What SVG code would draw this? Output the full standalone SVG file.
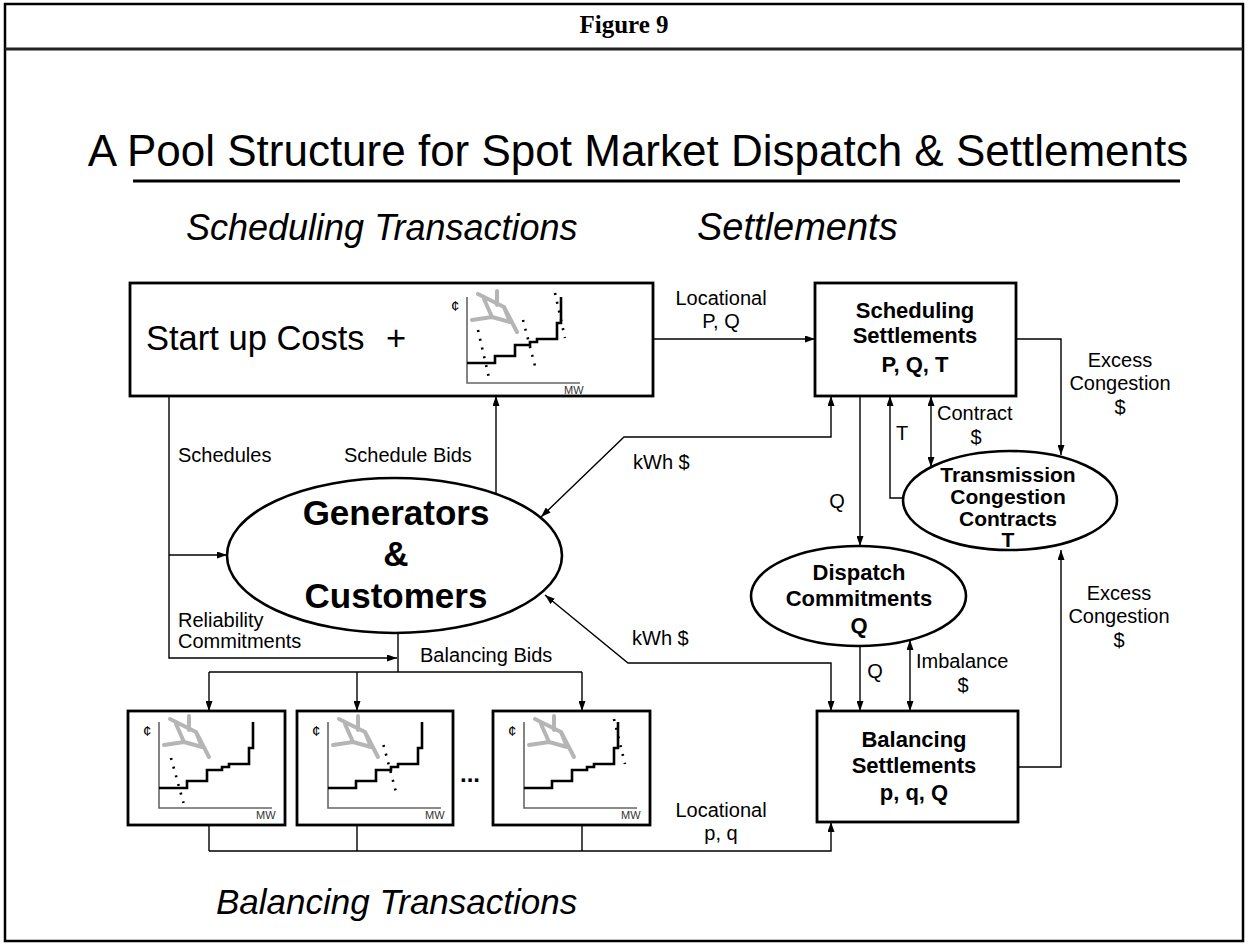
<svg xmlns="http://www.w3.org/2000/svg" xmlns:xlink="http://www.w3.org/1999/xlink" width="1248" height="946" viewBox="0 0 1248 946">
<style>
  .frame{fill:none;stroke:#000;stroke-width:2.5}
  .box{fill:#fff;stroke:#000;stroke-width:2.8}
  .conn{fill:none;stroke:#000;stroke-width:1.4}
  .t{font-family:"Liberation Sans",Arial,sans-serif;fill:#000}
  .lbl{font-size:20px}
  .mid{text-anchor:middle}
  .nb{font-weight:bold;font-size:22px;text-anchor:middle}
  .tcc{font-weight:bold;font-size:21px;text-anchor:middle}
  .hd{font-style:italic}
  .axis{fill:none;stroke:#666;stroke-width:1.6}
  .step{fill:none;stroke:#000;stroke-width:2.6}
  .net{fill:none;stroke:#b5b5b5;stroke-width:4;stroke-linecap:round;stroke-linejoin:round}
  .dots{fill:none;stroke:#000;stroke-width:2.6;stroke-dasharray:2 7}
  .small{font-size:11px;fill:#333}
</style>
<defs>
  <marker id="ah" viewBox="0 0 10 7" refX="10" refY="3.5" markerWidth="10" markerHeight="7" markerUnits="userSpaceOnUse" orient="auto-start-reverse">
    <path d="M0,0 L10,3.5 L0,7 z" fill="#000"/>
  </marker>
  <g id="chart">
    <path class="net" d="M11,-89 L37,-76 L50,-51 M30,-92 L30,-78 M5,-63 L25,-66 L43,-61 L37,-76 M25,-66 L17,-84"/>
    <path class="axis" d="M0,-86 V0 H113"/>
    <path class="step" d="M0,-20 H28 V-27 H48 V-38 H63 V-41 H70 V-44 H90 V-60 H94 V-86"/>
    <text class="t small" x="97" y="11">MW</text>
    <text class="t" x="-16" y="-72" font-size="15" fill="#333">¢</text>
  </g>
</defs>

<rect class="frame" x="5" y="4" width="1238" height="937"/>
<line x1="5" y1="49" x2="1243" y2="49" stroke="#222" stroke-width="3"/>
<text x="624" y="33" font-family="'Liberation Serif','Times New Roman',serif" font-weight="bold" font-size="25" text-anchor="middle">Figure 9</text>
<text class="t mid" x="638" y="166" font-size="44">A Pool Structure for Spot Market Dispatch &amp; Settlements</text>
<line x1="133" y1="181" x2="1180" y2="181" stroke="#000" stroke-width="3"/>
<text class="t hd" x="186" y="240" font-size="36">Scheduling Transactions</text>
<text class="t hd" x="697" y="240" font-size="38">Settlements</text>
<text class="t hd" x="216" y="914" font-size="35">Balancing Transactions</text>

<g id="connectors">
  <path class="conn" d="M653,339 H815" marker-end="url(#ah)"/>
  <path class="conn" d="M1016,339 H1061 V455" marker-end="url(#ah)"/>
  <path class="conn" d="M496,494 V396" marker-end="url(#ah)"/>
  <path class="conn" d="M169,396 V658 H397" marker-end="url(#ah)"/>
  <path class="conn" d="M169,555 H227" marker-end="url(#ah)"/>
  <path class="conn" d="M398,633 V672"/>
  <path class="conn" d="M209,672 H582"/>
  <path class="conn" d="M209,672 V711" marker-end="url(#ah)"/>
  <path class="conn" d="M357,672 V711" marker-end="url(#ah)"/>
  <path class="conn" d="M582,672 V711" marker-end="url(#ah)"/>
  <path class="conn" d="M541,517 L624,437 H831 V396" marker-start="url(#ah)" marker-end="url(#ah)"/>
  <path class="conn" d="M545,595 L628,663 H831 V711" marker-start="url(#ah)" marker-end="url(#ah)"/>
  <path class="conn" d="M860,396 V546" marker-end="url(#ah)"/>
  <path class="conn" d="M903,498 H890 V396" marker-end="url(#ah)"/>
  <path class="conn" d="M931,396 V467" marker-start="url(#ah)" marker-end="url(#ah)"/>
  <path class="conn" d="M860,646 V711" marker-end="url(#ah)"/>
  <path class="conn" d="M910,640 V711" marker-start="url(#ah)" marker-end="url(#ah)"/>
  <path class="conn" d="M1018,767 H1061 V550" marker-end="url(#ah)"/>
  <path class="conn" d="M209,825 V851 M357,825 V851 M582,825 V851"/>
  <path class="conn" d="M209,851 H831 V822" marker-end="url(#ah)"/>
</g>

<g id="conn-labels" class="t lbl">
  <text class="mid" x="721" y="305">Locational</text>
  <text class="mid" x="721" y="328">P, Q</text>
  <text class="mid" x="1120" y="367">Excess</text>
  <text class="mid" x="1120" y="390">Congestion</text>
  <text class="mid" x="1120" y="414">$</text>
  <text x="178" y="462">Schedules</text>
  <text x="344" y="462">Schedule Bids</text>
  <text x="633" y="469">kWh $</text>
  <text x="178" y="627">Reliability</text>
  <text x="178" y="648">Commitments</text>
  <text x="420" y="662">Balancing Bids</text>
  <text x="632" y="645">kWh $</text>
  <text class="mid" x="837" y="508">Q</text>
  <text class="mid" x="902" y="440">T</text>
  <text x="937" y="420">Contract</text>
  <text class="mid" x="976" y="444">$</text>
  <text class="mid" x="875" y="678">Q</text>
  <text x="916" y="668">Imbalance</text>
  <text class="mid" x="963" y="692">$</text>
  <text class="mid" x="1119" y="600">Excess</text>
  <text class="mid" x="1119" y="623">Congestion</text>
  <text class="mid" x="1119" y="647">$</text>
  <text class="mid" x="721" y="817">Locational</text>
  <text class="mid" x="721" y="840">p, q</text>
</g>

<g id="startup">
  <rect class="box" x="130" y="283" width="523" height="113"/>
  <text class="t" x="146" y="350" font-size="34.5">Start up Costs</text>
  <text class="t" x="386" y="350" font-size="34.5">+</text>
  <use xlink:href="#chart" href="#chart" transform="translate(467,383)"/>
  <path class="dots" d="M478,330 L489,378 M523,320 L535,366 M555,293 L565,338"/>
</g>

<g id="sched-settle">
  <rect class="box" x="815" y="283" width="201" height="113"/>
  <text class="t nb" x="915" y="318">Scheduling</text>
  <text class="t nb" x="915" y="343">Settlements</text>
  <text class="t nb" x="915" y="372">P, Q, T</text>
</g>

<g id="tcc">
  <ellipse cx="1010" cy="500.5" rx="107" ry="49.5" fill="#fff" stroke="#000" stroke-width="2.6"/>
  <text class="t tcc" x="1008" y="482">Transmission</text>
  <text class="t tcc" x="1008" y="504">Congestion</text>
  <text class="t tcc" x="1008" y="526">Contracts</text>
  <text class="t tcc" x="1008" y="547">T</text>
</g>

<g id="generators">
  <ellipse cx="394.5" cy="555.5" rx="167.5" ry="77.5" fill="#fff" stroke="#000" stroke-width="2.6"/>
  <text class="t" x="396" y="525" font-size="35" font-weight="bold" text-anchor="middle">Generators</text>
  <text class="t" x="396" y="566" font-size="35" font-weight="bold" text-anchor="middle">&amp;</text>
  <text class="t" x="396" y="608" font-size="35" font-weight="bold" text-anchor="middle">Customers</text>
</g>

<g id="dispatch">
  <ellipse cx="858.5" cy="596" rx="107.5" ry="50" fill="#fff" stroke="#000" stroke-width="2.6"/>
  <text class="t nb" x="859" y="580">Dispatch</text>
  <text class="t nb" x="859" y="606">Commitments</text>
  <text class="t nb" x="859" y="633">Q</text>
</g>

<g id="bal-settle">
  <rect class="box" x="817" y="711" width="201" height="111"/>
  <text class="t nb" x="914" y="747">Balancing</text>
  <text class="t nb" x="914" y="773">Settlements</text>
  <text class="t nb" x="914" y="800">p, q, Q</text>
</g>

<g id="bid1">
  <rect class="box" x="128" y="711" width="157" height="114"/>
  <use xlink:href="#chart" href="#chart" transform="translate(159,808)"/>
  <path class="dots" d="M171,758 L183.5,803"/>
</g>
<g id="bid2">
  <rect class="box" x="297" y="711" width="156" height="114"/>
  <use xlink:href="#chart" href="#chart" transform="translate(328,808)"/>
  <path class="dots" d="M383.5,745 L395.7,791"/>
</g>
<text class="t" x="470" y="782" font-size="24" font-weight="bold" text-anchor="middle">...</text>
<g id="bid3">
  <rect class="box" x="493" y="711" width="157" height="114"/>
  <use xlink:href="#chart" href="#chart" transform="translate(524,808)"/>
  <path class="dots" d="M614,719 L625,764"/>
</g>
</svg>
